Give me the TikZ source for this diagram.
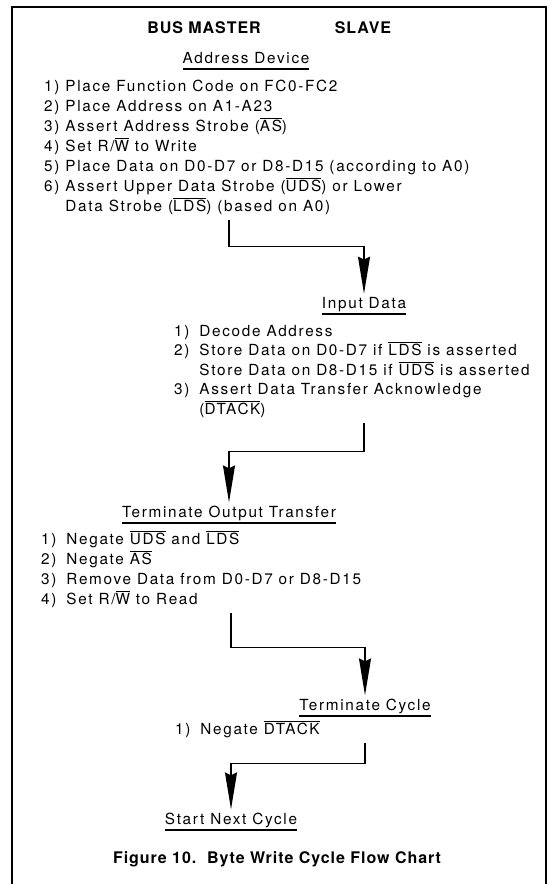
\documentclass[tikz,border=0pt]{standalone}
\usepackage{fontspec}
\setmainfont{TeX Gyre Heros}
\newfontfamily\chartfont{TeX Gyre Heros}[LetterSpace=11]
\newfontfamily\headfont{TeX Gyre Heros}[LetterSpace=6]
\usetikzlibrary{arrows.meta}

% overlined signal names and underlined step titles
\newcommand{\nbar}[1]{\vbox{\hrule height 0.9pt\kern1.3pt\hbox{#1}}}
\newcommand{\uline}[1]{\vtop{\hbox{\vphantom{p}#1}\kern2pt\hrule height 1.3pt}}

\begin{document}
\begin{tikzpicture}[x=1pt,y=-1pt,
    steplist/.style={font=\chartfont\fontsize{15.3}{20}\selectfont, inner sep=0pt, anchor=north west},
    steptitle/.style={font=\chartfont\fontsize{15.3}{20}\selectfont, anchor=base, inner sep=3pt},
    colhead/.style={font=\headfont\bfseries\fontsize{16}{19}\selectfont, anchor=base},
    flow/.style={line width=1.6pt, shorten <=3pt, -{Stealth[length=37pt,width=12pt,inset=3pt]}}]
    \useasboundingbox (0,0) rectangle (551,884);

    % Frame
    \draw[line width=2.2pt] (12,884) -- (12,7) -- (546,7) -- (546,884);

    % Column heads
    \node[colhead] (master) at (204,33) {BUS MASTER};
    \node[colhead] (slave) at (363,33) {SLAVE};

    % Bus master: address device
    \node[steptitle] (hdaddr) at (246,63) {\uline{Address Device}};
    \node[steplist] (addrlist) at (44,77) {\begin{tabular}{@{}l@{\hspace{6pt}}l@{}}
        1) & Place Function Code on FC0-FC2\\
        2) & Place Address on A1-A23\\
        3) & Assert Address Strobe (\nbar{AS})\\
        4) & Set R/\nbar{W} to Write\\
        5) & Place Data on D0-D7 or D8-D15 (according to A0)\\
        6) & Assert Upper Data Strobe (\nbar{UDS}) or Lower\\
           & Data Strobe (\nbar{LDS}) (based on A0)
    \end{tabular}};

    % Slave: input data
    \node[steptitle] (hdinput) at (364,308) {\uline{Input Data}};
    \node[steplist, font=\chartfont\fontsize{15.3}{19.5}\selectfont] (inputlist) at (174,322.5) {\begin{tabular}{@{}l@{\hspace{10pt}}l@{}}
        1) & Decode Address\\
        2) & Store Data on D0-D7 if \nbar{LDS} is asserted\\
           & Store Data on D8-D15 if \nbar{UDS} is asserted\\
        3) & Assert Data Transfer Acknowledge\\
           & (\nbar{DTACK})
    \end{tabular}};

    % Bus master: terminate output transfer
    \node[steptitle] (hdterm) at (229,517) {\uline{Terminate Output Transfer}};
    \node[steplist] (termlist) at (41,530) {\begin{tabular}{@{}l@{\hspace{10pt}}l@{}}
        1) & Negate \nbar{UDS} and \nbar{LDS}\\
        2) & Negate \nbar{AS}\\
        3) & Remove Data from D0-D7 or D8-D15\\
        4) & Set R/\nbar{W} to Read
    \end{tabular}};

    % Slave: terminate cycle
    \node[steptitle] (hdcycle) at (365,710) {\uline{Terminate Cycle}};
    \node[steplist] (cyclelist) at (175,720) {\begin{tabular}{@{}l@{\hspace{10pt}}l@{}}
        1) & Negate \nbar{DTACK}
    \end{tabular}};

    % Bus master: start next cycle
    \node[steptitle] (hdnext) at (231,824) {\uline{Start Next Cycle}};

    % Caption
    \node[colhead] (caption) at (277,863) {Figure 10.\ \ Byte Write Cycle Flow Chart};

    % Flow arrows
    \draw[flow] (addrlist.south -| hdterm) -- ++(0,29) -| (hdinput.north);
    \draw[flow] (inputlist.south -| hdinput) -- ++(0,31) -| (hdterm.north);
    \draw[flow] (termlist.south -| hdnext) -- ++(0,37) -| (hdcycle.north);
    \draw[flow] (cyclelist.south -| hdcycle) -- ++(0,23) -| (hdnext.north);
\end{tikzpicture}
\end{document}
